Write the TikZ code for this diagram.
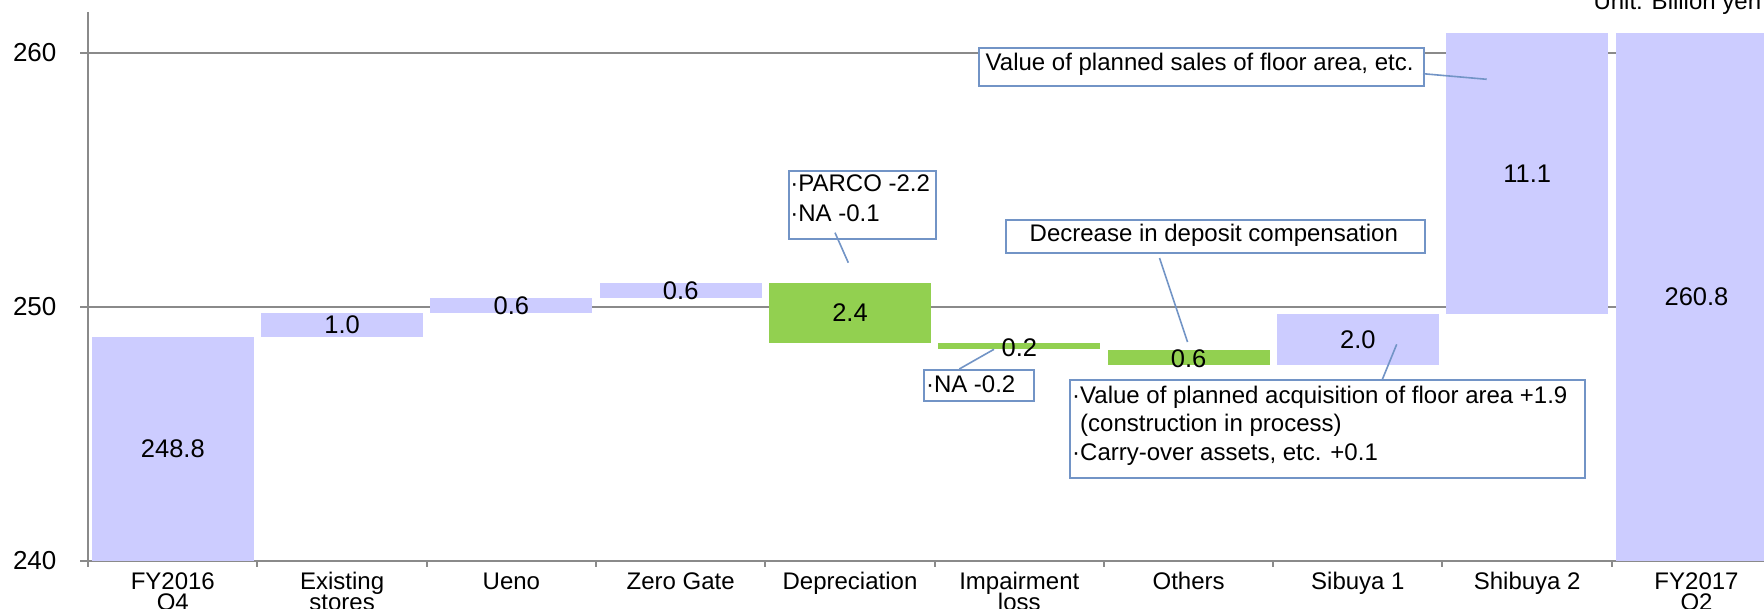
\documentclass[tikz,border=0pt]{standalone}
\usepackage{fontspec}
\setmainfont{Liberation Sans}
\usetikzlibrary{calc}
\definecolor{barblue}{HTML}{CCCCFF}
\definecolor{bargreen}{HTML}{92D050}
\definecolor{gridgray}{HTML}{8A8A8A}
\definecolor{callblue}{HTML}{7294C6}
\begin{document}
\begin{tikzpicture}[x=1pt,y=-1pt,
  gridln/.style={draw=gridgray, line width=2pt},
  barbox/.style={draw=none, inner sep=0pt, minimum width=162pt},
  bluebar/.style={barbox, fill=barblue},
  greenbar/.style={barbox, fill=bargreen},
  vlabel/.style={font=\fontsize{25.5}{30}\selectfont, inner sep=0pt},
  ticklabel/.style={font=\fontsize{26}{30}\selectfont, inner sep=0pt, anchor=east},
  catlabel/.style={font=\fontsize{24}{24}\selectfont, inner sep=0pt, anchor=base},
  callout/.style={draw=callblue, line width=2pt, fill=white, inner sep=0pt, anchor=north west},
  calltext/.style={font=\fontsize{24}{29}\selectfont, inner sep=0pt, anchor=base west},
  leader/.style={draw=callblue, line width=1.6pt}]
\useasboundingbox (0,0) rectangle (1764,609);
\fill[white] (0,0) rectangle (1764,609);

% grid lines and axes
\draw[gridln] (80,52.7) -- (1764,52.7);
\draw[gridln] (80,306.7) -- (1764,306.7);
\draw[gridln] (80,560.7) -- (1764,560.7);
\draw[gridln] (88,12) -- (88,566.7);
\foreach \bx in {257.3,426.6,595.9,765.2,934.5,1103.8,1273.1,1442.4,1611.7}
  \draw[gridln] (\bx,560.7) -- (\bx,566.7);

% tick labels
\node[ticklabel] (t260) at (56.6,52.7) {260};
\node[ticklabel] (t250) at (56.6,306.7) {250};
\node[ticklabel] (t240) at (56.6,560.7) {240};

% bars
\node[bluebar, minimum height=223.7pt] (bar0) at (172.8,448.85) {};
\node[bluebar, minimum height=24.3pt] (bar1) at (342.1,324.85) {};
\node[bluebar, minimum height=14.7pt] (bar2) at (511.4,305.35) {};
\node[bluebar, minimum height=15pt] (bar3) at (680.7,290.5) {};
\node[greenbar, minimum height=60pt] (bar4) at (850.0,313) {};
\node[greenbar, minimum height=6.5pt] (bar5) at (1019.3,346.25) {};
\node[greenbar, minimum height=15pt] (bar6) at (1188.6,357.5) {};
\node[bluebar, minimum height=51pt] (bar7) at (1357.9,339.5) {};
\node[bluebar, minimum height=281pt] (bar8) at (1527.2,173.5) {};
\node[bluebar, minimum height=527.7pt] (bar9) at (1696.5,296.85) {};

% value labels
\node[vlabel] (v0) at (bar0.center) {248.8};
\node[vlabel] (v1) at (bar1.center) {1.0};
\node[vlabel] (v2) at (bar2.center) {0.6};
\node[vlabel] (v3) at (bar3.center) {0.6};
\node[vlabel] (v4) at (bar4.center) {2.4};
\node[vlabel] (v5) at (1019.3,347.8) {0.2};
\node[vlabel] (v6) at (1188.6,359) {0.6};
\node[vlabel] (v7) at (bar7.center) {2.0};
\node[vlabel] (v8) at (bar8.center) {11.1};
\node[vlabel] (v9) at (bar9.center) {260.8};

% category labels
\node[catlabel] (c0a) at (172.8,589.3) {FY2016};
\node[catlabel] (c0b) at (172.8,610.5) {Q4};
\node[catlabel] (c1a) at (342.1,589.3) {Existing};
\node[catlabel] (c1b) at (342.1,610.5) {stores};
\node[catlabel] (c2) at (511.4,589.3) {Ueno};
\node[catlabel] (c3) at (680.7,589.3) {Zero Gate};
\node[catlabel] (c4) at (850.0,589.3) {Depreciation};
\node[catlabel] (c5a) at (1019.3,589.3) {Impairment};
\node[catlabel] (c5b) at (1019.3,610.5) {loss};
\node[catlabel] (c6) at (1188.6,589.3) {Others};
\node[catlabel] (c7) at (1357.9,589.3) {Sibuya 1};
\node[catlabel] (c8) at (1527.2,589.3) {Shibuya 2};
\node[catlabel] (c9a) at (1696.5,589.3) {FY2017};
\node[catlabel] (c9b) at (1696.5,610.5) {Q2};

% unit
\node[calltext] (unit) at (1593.3,9.3) {Unit: Billion yen};

% callout boxes
\node[callout, minimum width=445pt, minimum height=38pt] (box1) at (978,47.5) {};
\node[calltext] (box1t) at (985.5,71) {Value of planned sales of floor area, etc.};

\node[callout, minimum width=146.7pt, minimum height=68.3pt] (box2) at (788.3,170) {};
\node[calltext] (box2a) at (790.2,191.7) {·PARCO -2.2};
\node[calltext] (box2b) at (790.2,221.7) {·NA -0.1};

\node[callout, minimum width=418.7pt, minimum height=33.3pt] (box3) at (1005,219) {};
\node[calltext] (box3t) at (1029.5,241.7) {Decrease in deposit compensation};

\node[callout, minimum width=109.4pt, minimum height=31pt] (box4) at (923.3,369) {};
\node[calltext] (box4t) at (925.8,392.3) {·NA -0.2};

\node[callout, minimum width=515.2pt, minimum height=97.5pt] (box5) at (1069,379.5) {};
\node[calltext] (box5a) at (1072,403.3) {·Value of planned acquisition of floor area +1.9};
\node[calltext] (box5b) at (1072,431.7) {\phantom{·}(construction in process)};
\node[calltext] (box5c) at (1072,460) {·Carry-over assets, etc. +0.1};

% leader ends
\coordinate (e1) at (1486.7,79.3);
\coordinate (e2) at (848.3,262.7);
\coordinate (e3) at (1187.5,342);
\coordinate (e4) at (994,349.3);
\coordinate (e5) at (1396.7,344.3);

% leaders
\draw[leader] ($(box1.north east)+(-2,26.2)$) -- (e1);
\draw[leader] ($(box2.south west)+(46.7,-7.6)$) -- (e2);
\draw[leader] ($(box3.south west)+(154.5,3.7)$) -- (e3);
\draw[leader] ($(box4.north west)+(36,0)$) -- (e4);
\draw[leader] ($(box5.north west)+(313.3,0)$) -- (e5);
\end{tikzpicture}
\end{document}
